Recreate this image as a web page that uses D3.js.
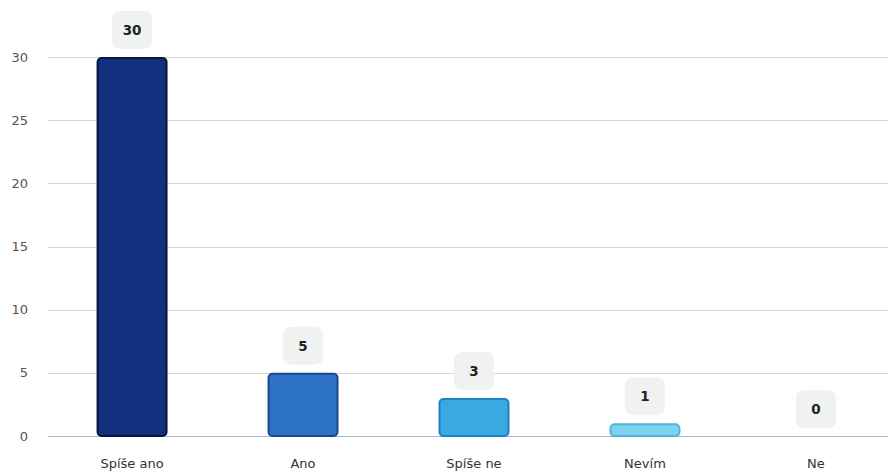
<!DOCTYPE html>
<html>
<head>
<meta charset="utf-8">
<script src="https://cdn.jsdelivr.net/npm/d3@7"></script>
<style>
  body { margin: 0; background: #fff; }
  svg { display: block; font-family: "DejaVu Sans", Verdana, sans-serif; }
</style>
</head>
<body>
<svg id="chart" width="888" height="472"></svg>
<script>
var categories = ['Spíše ano', 'Ano', 'Spíše ne', 'Nevím', 'Ne'];
var values = [30, 5, 3, 1, 0];
var yTicks = [0, 5, 10, 15, 20, 25, 30];
var fills = ['#13307f', '#2d72c4', '#3aa9e3', '#7dd3ef', '#7dd3ef'];
var strokes = ['#06143f', '#17498f', '#1c84c3', '#4fb5dd', '#4fb5dd'];

(function () {
    var svg = d3.select('#chart');
    var plotLeft = 48, plotRight = 888, plotTop = 57, plotBottom = 436;

    var x = d3.scaleBand().domain(categories).range([47, 901]).paddingInner(0.585).paddingOuter(0.29);
    var y = d3.scaleLinear().domain([0, 30]).range([plotBottom, plotTop]);

    var data = categories.map(function (c, i) {
        return {name: c, value: values[i], fill: fills[i], stroke: strokes[i]};
    });

    // grid
    svg.append('g').selectAll('line').data(yTicks).enter().append('line')
        .attr('x1', plotLeft).attr('x2', plotRight)
        .attr('y1', function (d) { return Math.round(y(d)) + 0.5; })
        .attr('y2', function (d) { return Math.round(y(d)) + 0.5; })
        .attr('stroke', function (d) { return d === 0 ? '#aab3d3' : '#d4d4d4'; })
        .attr('stroke-width', 1);

    // y labels
    svg.append('g').selectAll('text').data(yTicks).enter().append('text')
        .attr('x', 28).attr('y', function (d) { return y(d); })
        .attr('dy', '0.35em').attr('text-anchor', 'end')
        .attr('font-size', 13).attr('fill', '#555')
        .text(function (d) { return d; });

    // bars
    svg.append('g').selectAll('rect').data(data.filter(function (d) { return d.value > 0; }))
        .enter().append('rect')
        .attr('x', function (d) { return x(d.name) + 1; })
        .attr('y', function (d) { return y(d.value) + 1; })
        .attr('width', x.bandwidth() - 2)
        .attr('height', function (d) { return plotBottom - y(d.value) - 1; })
        .attr('rx', 4)
        .attr('fill', function (d) { return d.fill; })
        .attr('stroke', function (d) { return d.stroke; })
        .attr('stroke-width', 2);

    // value labels
    var lab = svg.append('g').selectAll('g').data(data).enter().append('g')
        .attr('transform', function (d) {
            return 'translate(' + (x(d.name) + x.bandwidth() / 2) + ',' + (y(d.value) - 8) + ')';
        });
    lab.append('rect')
        .attr('x', -20).attr('y', -38).attr('width', 40).attr('height', 38)
        .attr('rx', 8).attr('fill', '#f0f1f1');
    lab.append('text')
        .attr('y', -19).attr('dy', '0.35em').attr('text-anchor', 'middle')
        .attr('font-size', 13.5).attr('font-weight', 'bold').attr('fill', '#222')
        .text(function (d) { return d.value; });

    // x labels
    svg.append('g').selectAll('text').data(categories).enter().append('text')
        .attr('x', function (d) { return x(d) + x.bandwidth() / 2; })
        .attr('y', 463).attr('dy', '0.35em').attr('text-anchor', 'middle')
        .attr('font-size', 13).attr('fill', '#333')
        .text(function (d) { return d; });
})();
</script>
</body>
</html>
